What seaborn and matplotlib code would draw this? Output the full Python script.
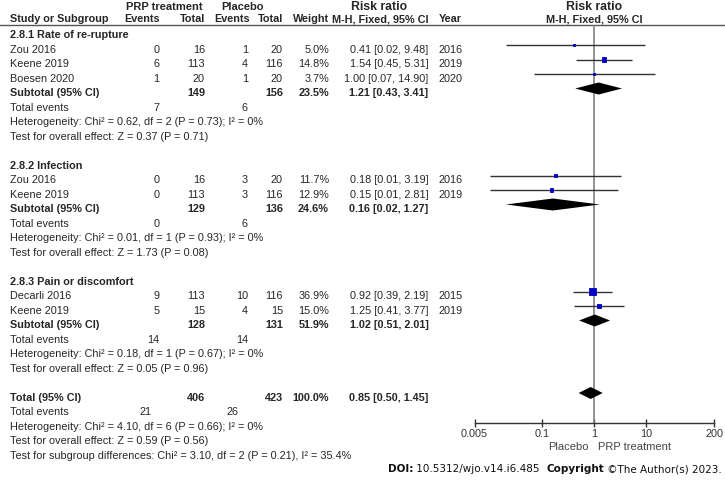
import numpy as np
import matplotlib
matplotlib.use("Agg")
import matplotlib.pyplot as plt
import seaborn as sns

# studies (flat, with subgroup index)
study_names = ["Zou 2016", "Keene 2019", "Boesen 2020", "Zou 2016", "Keene 2019", "Decarli 2016", "Keene 2019"]
study_group = [0, 0, 0, 1, 1, 2, 2]
prp_events = [0, 6, 1, 0, 0, 9, 5]
prp_total = [16, 113, 20, 16, 113, 113, 15]
pla_events = [1, 4, 1, 3, 3, 10, 4]
pla_total = [20, 116, 20, 20, 116, 116, 15]
weights = [5.0, 14.8, 3.7, 11.7, 12.9, 36.9, 15.0]
rr = [0.41, 1.54, 1.00, 0.18, 0.15, 0.92, 1.25]
rr_lo = [0.02, 0.45, 0.07, 0.01, 0.01, 0.39, 0.41]
rr_hi = [9.48, 5.31, 14.90, 3.19, 2.81, 2.19, 3.77]
years = [2016, 2019, 2020, 2016, 2019, 2015, 2019]

# subgroups
group_titles = ["2.8.1 Rate of re-rupture", "2.8.2 Infection", "2.8.3 Pain or discomfort"]
group_prp_total = [149, 129, 128]
group_pla_total = [156, 136, 131]
group_weight = [23.5, 24.6, 51.9]
group_rr = [1.21, 0.16, 1.02]
group_lo = [0.43, 0.02, 0.51]
group_hi = [3.41, 1.27, 2.01]
group_prp_events = [7, 0, 14]
group_pla_events = [6, 6, 14]
group_het = ["Chi² = 0.62, df = 2 (P = 0.73); I² = 0%",
             "Chi² = 0.01, df = 1 (P = 0.93); I² = 0%",
             "Chi² = 0.18, df = 1 (P = 0.67); I² = 0%"]
group_z = ["Z = 0.37 (P = 0.71)", "Z = 1.73 (P = 0.08)", "Z = 0.05 (P = 0.96)"]

# overall
total_prp, total_pla = 406, 423
total_rr, total_lo, total_hi = 0.85, 0.50, 1.45
total_prp_events, total_pla_events = 21, 26
total_het = "Chi² = 4.10, df = 6 (P = 0.66); I² = 0%"
total_z = "Z = 0.59 (P = 0.56)"
subgroup_test = "Chi² = 3.10, df = 2 (P = 0.21), I² = 35.4%"

axis_ticks = [0.005, 0.1, 1, 10, 200]
axis_ticklabels = ["0.005", "0.1", "1", "10", "200"]

sns.set_theme(style="white")
plt.rcParams["font.family"] = ["Liberation Sans", "DejaVu Sans"]

W, H = 725, 480
fig = plt.figure(figsize=(W / 100, H / 100), dpi=100)

# full-page axes in pixel units for the table text
tab = fig.add_axes([0, 0, 1, 1])
tab.set_xlim(0, W)
tab.set_ylim(H, 0)
tab.axis("off")

TXT = "#262626"
FS = 7.8


def row_y(i):
    return 30.5 + 14.5 * i


def put(x, i, s, ha="left", bold=False, size=FS):
    tab.text(x, row_y(i) + 7.8, s, ha=ha, va="baseline", fontsize=size,
             fontweight="bold" if bold else "normal", color=TXT)


# column x positions (px)
X_NAME, X_PE, X_PT, X_CE, X_CT, X_W, X_CI, X_YR = 10, 159.5, 205, 248, 283, 329, 428.5, 439

# header
tab.text(164, 9.5, "PRP treatment", ha="center", va="baseline", fontsize=8, fontweight="bold", color=TXT)
tab.text(243, 9.5, "Placebo", ha="center", va="baseline", fontsize=8, fontweight="bold", color=TXT)
tab.text(379, 10, "Risk ratio", ha="center", va="baseline", fontsize=8.8, fontweight="bold", color=TXT)
tab.text(594, 10, "Risk ratio", ha="center", va="baseline", fontsize=8.8, fontweight="bold", color=TXT)
for x, s, ha in [(X_NAME, "Study or Subgroup", "left"), (X_PE, "Events", "right"), (X_PT, "Total", "right"),
                 (X_CE + 2, "Events", "right"), (X_CT, "Total", "right"), (X_W, "Weight", "right"),
                 (X_CI, "M-H, Fixed, 95% CI", "right"), (X_YR, "Year", "left"),
                 (594, "M-H, Fixed, 95% CI", "center")]:
    tab.text(x, 22, s, ha=ha, va="baseline", fontsize=7.8, fontweight="bold", color=TXT)
tab.plot([0, W], [24.5, 24.5], color="#555555", lw=1)

# forest axes
x_left, x_right = 474.6, 714
y_top, y_bot = 24.5, 422.5
ax = fig.add_axes([x_left / W, (H - y_bot) / H, (x_right - x_left) / W, (y_bot - y_top) / H])
ax.set_xscale("log")
ax.set_xlim(axis_ticks[0], axis_ticks[-1])
ax.set_ylim(y_bot, y_top)
ax.patch.set_alpha(0)
for side in ["top", "left", "right"]:
    ax.spines[side].set_visible(False)
ax.spines["bottom"].set_color("#333333")
ax.spines["bottom"].set_linewidth(1)
ax.set_xticks(axis_ticks)
ax.set_xticklabels(axis_ticklabels)
ax.xaxis.set_minor_locator(matplotlib.ticker.NullLocator())
ax.set_yticks([])
ax.tick_params(axis="x", direction="inout", length=6, width=1, colors="#333333", labelsize=7.8, pad=2,
               bottom=True)
ax.axvline(1, color="#808080", lw=1.2, zorder=1)

study_y, study_rows = [], []
row = 0
for g, title in enumerate(group_titles):
    put(X_NAME, row, title, bold=True)
    row += 1
    for k in range(len(study_names)):
        if study_group[k] != g:
            continue
        put(X_NAME, row, study_names[k])
        put(X_PE, row, str(prp_events[k]), ha="right")
        put(X_PT, row, str(prp_total[k]), ha="right")
        put(X_CE, row, str(pla_events[k]), ha="right")
        put(X_CT, row, str(pla_total[k]), ha="right")
        put(X_W, row, f"{weights[k]:.1f}%", ha="right")
        put(X_CI, row, f"{rr[k]:.2f} [{rr_lo[k]:.2f}, {rr_hi[k]:.2f}]", ha="right")
        put(X_YR, row, str(years[k]))
        study_y.append(row_y(row))
        study_rows.append(k)
        row += 1
    put(X_NAME, row, "Subtotal (95% CI)", bold=True)
    put(X_PT, row, str(group_prp_total[g]), ha="right", bold=True)
    put(X_CT, row, str(group_pla_total[g]), ha="right", bold=True)
    put(X_W, row, f"{group_weight[g]:.1f}%", ha="right", bold=True)
    put(X_CI, row, f"{group_rr[g]:.2f} [{group_lo[g]:.2f}, {group_hi[g]:.2f}]", ha="right", bold=True)
    yc = row_y(row)
    ax.fill([group_lo[g], group_rr[g], group_hi[g], group_rr[g]], [yc, yc - 6, yc, yc + 6],
            color="black", lw=0, zorder=3)
    row += 1
    put(X_NAME, row, "Total events")
    put(X_PE, row, str(group_prp_events[g]), ha="right")
    put(X_CE, row, str(group_pla_events[g]), ha="right")
    row += 1
    put(X_NAME, row, "Heterogeneity: " + group_het[g])
    row += 1
    put(X_NAME, row, "Test for overall effect: " + group_z[g])
    row += 2

put(X_NAME, row, "Total (95% CI)", bold=True)
put(X_PT, row, str(total_prp), ha="right", bold=True)
put(X_CT, row, str(total_pla), ha="right", bold=True)
put(X_W, row, "100.0%", ha="right", bold=True)
put(X_CI, row, f"{total_rr:.2f} [{total_lo:.2f}, {total_hi:.2f}]", ha="right", bold=True)
yc = row_y(row)
ax.fill([total_lo, total_rr, total_hi, total_rr], [yc, yc - 6, yc, yc + 6], color="black", lw=0, zorder=3)
row += 1
put(X_NAME, row, "Total events")
put(X_PE - 8, row, str(total_prp_events), ha="right")
put(X_CE - 9, row, str(total_pla_events), ha="right")
row += 1
put(X_NAME, row, "Heterogeneity: " + total_het)
row += 1
put(X_NAME, row, "Test for overall effect: " + total_z)
row += 1
put(X_NAME, row, "Test for subgroup differences: " + subgroup_test)

# study CIs and weighted squares
ax.hlines(study_y, [rr_lo[k] for k in study_rows], [rr_hi[k] for k in study_rows],
          color="#333333", lw=1, zorder=2)
sns.scatterplot(x=[rr[k] for k in study_rows], y=study_y, size=[weights[k] for k in study_rows],
                sizes=(0, 22), size_norm=(0, 36.9), marker="s", color="#0000c8", edgecolor="#0000c8",
                linewidth=0.6, legend=False, ax=ax, zorder=4)
ax.set_xlabel("")
ax.set_ylabel("")

tab.text(589, 447.5, "Placebo", ha="right", va="center", fontsize=8, color="#444444")
tab.text(598, 447.5, "PRP treatment", ha="left", va="center", fontsize=8, color="#444444")

# footer, right aligned at the figure edge
fig.canvas.draw()
renderer = fig.canvas.get_renderer()
pieces = [("DOI:", "bold"), (" 10.5312/wjo.v14.i6.485  ", "normal"), ("Copyright", "bold"),
          (" ©The Author(s) 2023.", "normal")]
texts = []
for s, wt in pieces:
    texts.append(tab.text(0, 469, s, ha="left", va="center", fontsize=7.5, fontweight=wt,
                          family="DejaVu Sans", color="#111111"))
widths = [t.get_window_extent(renderer).width for t in texts]
x = 722 - sum(widths)
for t, w in zip(texts, widths):
    t.set_x(x)
    x += w

fig.savefig("out.png", dpi=100)
